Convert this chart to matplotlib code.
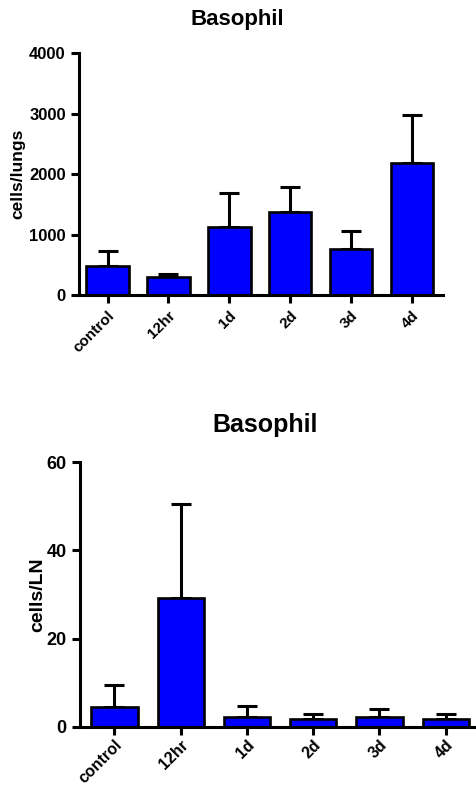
import matplotlib.pyplot as plt

plt.rcParams['font.family'] = ['Liberation Sans', 'DejaVu Sans']
plt.rcParams['font.weight'] = 'bold'

groups = ['control', '12hr', '1d', '2d', '3d', '4d']

# lungs panel
lung_mean = [487, 290, 1120, 1373, 763, 2176]
lung_err_top = [730, 350, 1692, 1780, 1065, 2973]

# lymph node panel
ln_mean = [4.6, 29.1, 2.2, 1.8, 2.2, 1.8]
ln_err_top = [9.4, 50.6, 4.8, 2.9, 4.0, 2.9]

fig = plt.figure(figsize=(4.77, 7.89), dpi=100)


def draw_panel(ax, means, tops, ylabel, yticks, yfs, xfs, lfs, xpad):
    x = list(range(len(groups)))
    up = [t - m for t, m in zip(tops, means)]
    ax.errorbar(x, means, yerr=[[0] * len(up), up], fmt='none', ecolor='black',
                elinewidth=2.2, capsize=7, capthick=2.2, zorder=1)
    ax.bar(x, means, width=0.7, color='#0000ff', edgecolor='black', linewidth=1.9, zorder=2)
    ax.spines['top'].set_visible(False)
    ax.spines['right'].set_visible(False)
    for s in ('left', 'bottom'):
        ax.spines[s].set_linewidth(2.2)
    ax.set_yticks(yticks)
    ax.set_ylim(yticks[0], yticks[-1])
    ax.set_xticks(x)
    ax.set_xticklabels(groups, rotation=45, ha='right', rotation_mode='anchor',
                       fontsize=xfs, fontweight='bold')
    ax.tick_params(width=2.2, length=6)
    ax.tick_params(axis='y', labelsize=yfs)
    ax.tick_params(axis='x', pad=xpad)
    for lab in ax.get_yticklabels():
        lab.set_fontweight('bold')
    ax.set_ylabel(ylabel, fontsize=lfs, fontweight='bold')


ax1 = fig.add_axes([0.1656, 0.6261, 0.763, 0.3067])
draw_panel(ax1, lung_mean, lung_err_top, 'cells/lungs', [0, 1000, 2000, 3000, 4000], 12, 11, 12.5, 3.5)
ax1.set_xlim(-0.47, 5.51)
ax1.yaxis.set_label_coords(-0.148, 0.5)
fig.text(0.497, 0.975, 'Basophil', ha='center', va='center', fontsize=16, fontweight='bold')

ax2 = fig.add_axes([0.1677, 0.0786, 0.832, 0.3358])
draw_panel(ax2, ln_mean, ln_err_top, 'cells/LN', [0, 20, 40, 60], 13, 11.5, 14, 1.5)
ax2.set_xlim(-0.52, 5.47)
ax2.yaxis.set_label_coords(-0.085, 0.5)
fig.text(0.556, 0.461, 'Basophil', ha='center', va='center', fontsize=18, fontweight='bold')

fig.savefig('out.png', dpi=100)
